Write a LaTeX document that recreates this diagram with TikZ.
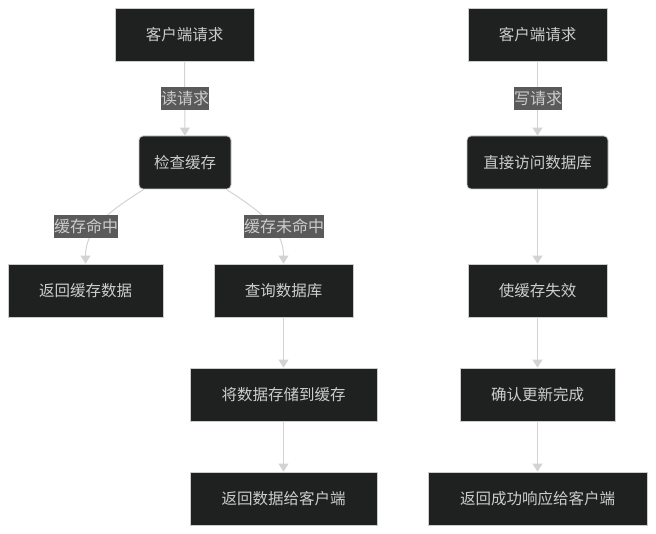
\documentclass[tikz,border=0pt]{standalone}
\usepackage{fontspec}
\setmainfont{Noto Sans CJK SC}
\usetikzlibrary{arrows.meta,positioning}
\definecolor{boxfill}{HTML}{1F2020}
\definecolor{boxline}{HTML}{CCCCCC}
\definecolor{txt}{HTML}{CCCCCC}
\definecolor{lblbg}{HTML}{5A5A5A}
\definecolor{edgec}{HTML}{D3D3D3}
\begin{document}
\begin{tikzpicture}[x=1pt,y=-1pt,
  box/.style={draw=boxline,line width=0.8pt,fill=boxfill,text=txt,inner sep=0pt,font=\fontsize{15.5}{18}\selectfont},
  rbox/.style={box,rounded corners=4pt},
  lbl/.style={fill=lblbg,text=txt,inner sep=0pt,minimum height=23pt,font=\fontsize{16}{18}\selectfont},
  edge/.style={draw=edgec,line width=1pt,-{Triangle[width=10pt,length=8pt]}}]
\useasboundingbox (0,0) rectangle (656,534);
% left column
\node[box,minimum width=139pt,minimum height=53pt] (A) at (184.5,34.5) {客户端请求};
\node[rbox,minimum width=92pt,minimum height=53pt] (B) at (185,162.5) {检查缓存};
\node[box,minimum width=155pt,minimum height=53pt] (C) at (85.5,290.5) {返回缓存数据};
\node[box,minimum width=139pt,minimum height=53pt] (D) at (283.5,290.5) {查询数据库};
\node[box,minimum width=187pt,minimum height=53pt] (E) at (283.5,394.5) {将数据存储到缓存};
\node[box,minimum width=187pt,minimum height=53pt] (F) at (283.5,498.5) {返回数据给客户端};
% right column
\node[box,minimum width=139pt,minimum height=53pt] (G) at (537.5,34.5) {客户端请求};
\node[rbox,minimum width=141pt,minimum height=53pt] (H) at (537.5,162.5) {直接访问数据库};
\node[box,minimum width=139pt,minimum height=53pt] (I) at (537.5,290.5) {使缓存失效};
\node[box,minimum width=155pt,minimum height=53pt] (J) at (537.5,394.5) {确认更新完成};
\node[box,minimum width=219pt,minimum height=53pt] (K) at (537.5,498.5) {返回成功响应给客户端};
% edges
\draw[edge] (A) -- (B);
\draw[edge] ([xshift=5pt]B.south west) to[out=-147,in=90] (C.north);
\draw[edge] ([xshift=-5pt]B.south east) to[out=-33,in=90] (D.north);
\draw[edge] (D) -- (E);
\draw[edge] (E) -- (F);
\draw[edge] (G) -- (H);
\draw[edge] (H) -- (I);
\draw[edge] (I) -- (J);
\draw[edge] (J) -- (K);
% labels
\node[lbl,minimum width=48pt] (l1) at (185,98.5) {读请求};
\node[lbl,minimum width=64pt] (l2) at (86,226.5) {缓存命中};
\node[lbl,minimum width=80pt] (l3) at (284,226.5) {缓存未命中};
\node[lbl,minimum width=48pt] (l4) at (538,98.5) {写请求};
\end{tikzpicture}
\end{document}
